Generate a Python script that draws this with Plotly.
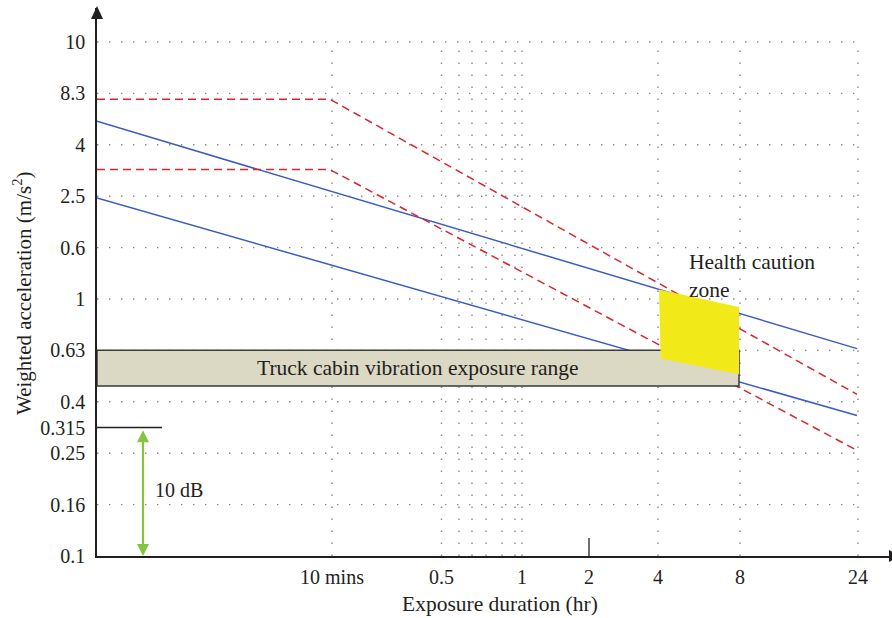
import plotly.graph_objects as go

# ---------------- data ----------------
# x axis: schematic duration axis (position units along the axis, tick labels in hours)
x_tick_labels = ["10 mins", "0.5", "1", "2", "4", "8", "24"]
x_tick_pos = [235, 344.5, 425, 492, 561, 643, 761]
x_minor_grid_pos = [362, 375, 389, 405, 418]
x_grid_labels = ["10 mins", "0.5", "1", "4", "8", "24"]

# y axis: schematic acceleration axis (index units, tick labels in m/s^2)
y_tick_labels = ["0.1", "0.16", "0.25", "0.315", "0.4", "0.63", "1", "0.6", "2.5", "4", "8.3", "10"]
y_tick_pos = [0, 1, 2, 2.5, 3, 4, 5, 6, 7, 8, 9, 10]
y_grid_labels = ["0.16", "0.25", "0.4", "0.63", "1", "0.6", "2.5", "4", "8.3", "10"]

# limit lines
blue_upper_x = [0, 760]
blue_upper_y = [8.457, 4.035]
blue_lower_x = [0, 760]
blue_lower_y = [6.965, 2.732]
red_upper_x = [0, 233, 760]
red_upper_y = [8.885, 8.885, 3.146]
red_lower_x = [0, 233, 760]
red_lower_y = [7.518, 7.518, 2.056]

# truck cabin exposure range band
cabin_x = [0, 642]
cabin_y = [3.307, 4.002]

# health caution zone polygon
caution_x = [562, 642, 642, 563.7]
caution_y = [5.183, 4.845, 3.535, 3.840]

# 10 dB reference
ref_level_y = 2.5
ref_line_x = [0, 65]
db_arrow_x = 46
db_arrow_y = [0, 2.446]

# ---------------- styling ----------------
TXT = "#231f20"
FONT = "Liberation Serif"
BLUE = "#3b5cbf"
RED = "#d8262e"
GRID = "#8a8a8a"
GREEN = "#86c440"

W, H = 892, 618
ML, MR, MT, MB = 97, 0, 8, 62
PXU = 51.4  # pixels per y index unit
plot_h = H - MT - MB
y_top = plot_h / PXU
plot_w = W - ML - MR

fig = go.Figure()

def line_trace(x, y, color, dash):
    return go.Scatter(x=x, y=y, mode="lines", line=dict(color=color, width=1.5, dash=dash),
                      hoverinfo="skip", showlegend=False)

fig.add_trace(line_trace(blue_upper_x, blue_upper_y, BLUE, "solid"))
fig.add_trace(line_trace(blue_lower_x, blue_lower_y, BLUE, "solid"))
fig.add_trace(line_trace(red_upper_x, red_upper_y, RED, "8px,5px"))
fig.add_trace(line_trace(red_lower_x, red_lower_y, RED, "8px,5px"))

shapes = []
# dotted grid
for lab in y_grid_labels:
    yv = y_tick_pos[y_tick_labels.index(lab)]
    shapes.append(dict(type="line", xref="x", yref="y", x0=0, x1=x_tick_pos[-1], y0=yv, y1=yv,
                       line=dict(color=GRID, width=1.4, dash="1.4px,10.6px"), layer="below"))
vgrid = [x_tick_pos[x_tick_labels.index(l)] for l in x_grid_labels] + x_minor_grid_pos
for xv in vgrid:
    shapes.append(dict(type="line", xref="x", yref="y", x0=xv, x1=xv, y0=0, y1=y_tick_pos[-1],
                       line=dict(color=GRID, width=1.4, dash="1.4px,10.6px"), layer="below"))

# cabin band
shapes.append(dict(type="rect", xref="x", yref="y", x0=cabin_x[0], x1=cabin_x[1],
                   y0=cabin_y[0], y1=cabin_y[1], fillcolor="#dbd8c3",
                   line=dict(color="#3a3a3a", width=1.5), layer="above"))
# caution zone
path = "M " + " L ".join(f"{x},{y}" for x, y in zip(caution_x, caution_y)) + " Z"
shapes.append(dict(type="path", xref="x", yref="y", path=path, fillcolor="#f2ea18",
                   line=dict(width=0), layer="above"))

# 0.315 reference line
shapes.append(dict(type="line", xref="x", yref="y", x0=ref_line_x[0], x1=ref_line_x[1],
                   y0=ref_level_y, y1=ref_level_y, line=dict(color=TXT, width=1.3), layer="above"))
# tick mark at 2 hr
x2 = x_tick_pos[x_tick_labels.index("2")]
shapes.append(dict(type="line", xref="x", yref="y", x0=x2, x1=x2, y0=0, y1=18 / PXU,
                   line=dict(color=TXT, width=1.3), layer="above"))

# green double arrow
ah = 12 / PXU
shapes.append(dict(type="line", xref="x", yref="y", x0=db_arrow_x, x1=db_arrow_x,
                   y0=db_arrow_y[0] + ah * 0.5, y1=db_arrow_y[1] - ah * 0.5,
                   line=dict(color=GREEN, width=2.2), layer="above"))
top, bot = db_arrow_y[1], db_arrow_y[0]
shapes.append(dict(type="path", xref="x", yref="y",
                   path=f"M {db_arrow_x},{top} L {db_arrow_x-6},{top-ah} L {db_arrow_x+6},{top-ah} Z",
                   fillcolor=GREEN, line=dict(width=0), layer="above"))
shapes.append(dict(type="path", xref="x", yref="y",
                   path=f"M {db_arrow_x},{bot} L {db_arrow_x-6},{bot+ah} L {db_arrow_x+6},{bot+ah} Z",
                   fillcolor=GREEN, line=dict(width=0), layer="above"))

# axis arrowheads (paper coordinates)
def px_to_paper_x(p):
    return (p - ML) / plot_w
def px_to_paper_y(p):
    return (H - MB - p) / plot_h

ty, by_ = px_to_paper_y(6), px_to_paper_y(19)
hw = 6 / plot_w
shapes.append(dict(type="path", xref="paper", yref="paper",
                   path=f"M 0,{ty} L {-hw},{by_} L {hw},{by_} Z",
                   fillcolor=TXT, line=dict(width=0), layer="above"))
tx, bx = px_to_paper_x(901), px_to_paper_x(889)
hh = 6 / plot_h
shapes.append(dict(type="path", xref="paper", yref="paper",
                   path=f"M {tx},0 L {bx},{-hh} L {bx},{hh} Z",
                   fillcolor=TXT, line=dict(width=0), layer="above"))

annotations = [
    dict(x=(cabin_x[0] + cabin_x[1]) / 2, y=(cabin_y[0] + cabin_y[1]) / 2, xref="x", yref="y",
         text="Truck cabin vibration exposure range", showarrow=False,
         xanchor="center", yanchor="middle",
         font=dict(family=FONT, size=21.5, color=TXT)),
    dict(x=590, y=5.44, xref="x", yref="y", text="Health caution<br>zone", showarrow=False,
         xanchor="left", yanchor="middle", align="left",
         font=dict(family=FONT, size=21.5, color=TXT)),
    dict(x=56, y=1.28, xref="x", yref="y", text="10 dB", showarrow=False,
         xanchor="left", yanchor="middle", font=dict(family=FONT, size=20, color=TXT)),
    dict(x=px_to_paper_x(500), y=px_to_paper_y(604), xref="paper", yref="paper",
         text="Exposure duration (hr)", showarrow=False, xanchor="center", yanchor="middle",
         font=dict(family=FONT, size=21.5, color=TXT)),
    dict(x=px_to_paper_x(22), y=px_to_paper_y(293), xref="paper", yref="paper",
         text="Weighted acceleration (m/s<sup>2</sup>)", showarrow=False, textangle=-90,
         xanchor="center", yanchor="middle",
         font=dict(family=FONT, size=21, color=TXT)),
]

fig.update_layout(
    width=W, height=H, margin=dict(l=ML, r=MR, t=MT, b=MB),
    paper_bgcolor="white", plot_bgcolor="white",
    shapes=shapes, annotations=annotations, showlegend=False,
    xaxis=dict(range=[0, plot_w], tickvals=x_tick_pos, ticktext=x_tick_labels,
               showgrid=False, zeroline=False, showline=True, linecolor=TXT, linewidth=1.5,
               ticks="", ticklabelstandoff=2, tickfont=dict(family=FONT, size=20, color=TXT),
               fixedrange=True),
    yaxis=dict(range=[0, y_top], tickvals=y_tick_pos, ticktext=y_tick_labels,
               showgrid=False, zeroline=False, showline=True, linecolor=TXT, linewidth=1.5,
               ticks="", ticklabelstandoff=6, tickfont=dict(family=FONT, size=20, color=TXT),
               fixedrange=True),
)

fig.write_html("out.html", config={"displayModeBar": False},
               post_script="document.body.style.margin='0';document.body.style.overflow='hidden';")
